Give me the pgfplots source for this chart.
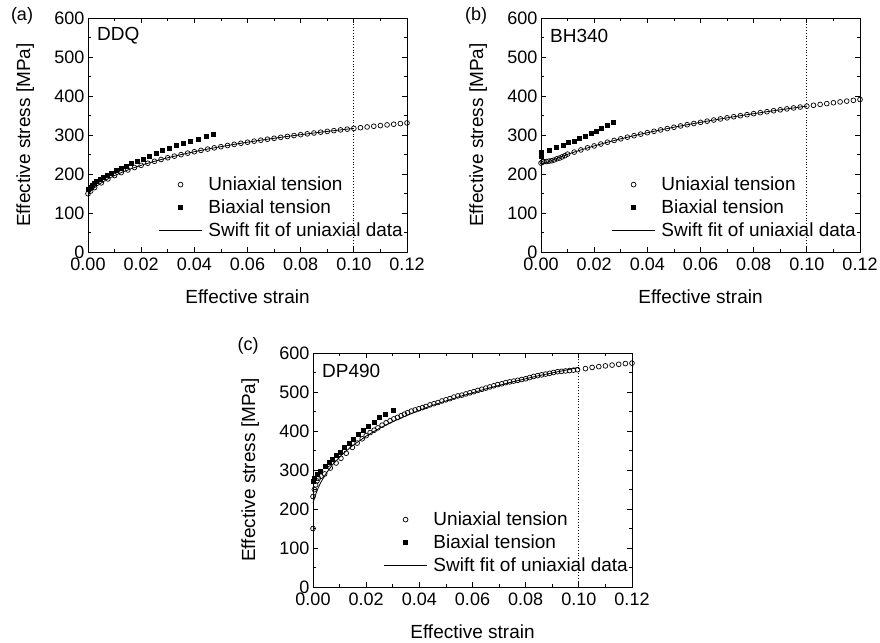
\documentclass[border=0pt]{standalone}
\usepackage{fontspec}
\setmainfont{Liberation Sans}
\usepackage{pgfplots}
\pgfplotsset{compat=1.18}
\newcommand\fs{\fontsize{18}{21.6}\selectfont}
\newcommand\fl{\fontsize{19}{22.8}\selectfont}
\pgfplotsset{
  panel/.style={
    scale only axis, width=319pt, height=234pt,
    xmin=0, xmax=0.12, ymin=0, ymax=600,
    xtick={0,0.02,0.04,0.06,0.08,0.1,0.12},
    ytick={0,100,200,300,400,500,600},
    minor x tick num=1, minor y tick num=1,
    tick align=inside, major tick length=5pt, minor tick length=3pt,
    axis line style={line width=0.8pt},
    every tick/.style={black, line width=0.8pt},
    scaled x ticks=false,
    xticklabel style={/pgf/number format/fixed, /pgf/number format/fixed zerofill, /pgf/number format/precision=2, yshift=-2pt},
    /pgf/number format/assume math mode=true,
    tick label style={font=\fs},
    xlabel={Effective strain}, ylabel={Effective stress [MPa]},
    every axis x label/.style={at={(axis description cs:0.5,-0.19)}, anchor=center, font=\fl},
    every axis y label/.style={at={(axis description cs:-0.197,0.5)}, rotate=90, anchor=center, font=\fl},
    clip=false,
    legend cell align=left,
    legend style={draw=none, fill=none, at={(1,0)}, anchor=south east,
      xshift=-3pt, yshift=13pt, font=\fl, row sep=5.5pt, inner sep=0pt,
      nodes={inner sep=1pt},
      /tikz/every odd column/.append style={column sep=5pt}},
  },
  uni/.style={only marks, mark=o, mark size=2.4pt, line width=0.7pt, black,
    legend image code/.code={\draw[black, mark=o, mark size=2.4pt, line width=0.7pt] plot coordinates {(21.5pt,0pt)};}},
  bi/.style={only marks, mark=square*, mark size=2pt, black,
    legend image code/.code={\draw[black, mark=square*, mark size=2pt] plot coordinates {(21.5pt,0pt)};}},
  fit/.style={black, line width=0.8pt, no marks,
    legend image code/.code={\draw[black, line width=0.8pt] (0pt,0pt) -- (43pt,0pt);}},
  vline/.style={black, dotted, line width=0.8pt, forget plot},
}
\begin{document}
\begin{tikzpicture}[x=1pt,y=1pt]
\useasboundingbox (0,0) rectangle (880,-642);
\node[font=\fs] at (22,-16) {(a)};
\node[font=\fs] at (476,-16) {(b)};
\node[font=\fs] at (248,-346) {(c)};

% ---------------- (a) DDQ
\begin{axis}[panel, at={(88pt,-252pt)}, anchor=south west]
\addplot[vline] coordinates {(0.1,0) (0.1,600)};
\addplot[uni] coordinates {
(0,149.4)(0.001,156.3)(0.0025,165.2)(0.005,177.3)(0.0075,187.3)(0.01,196.0)(0.0125,203.6)(0.015,210.4)(0.0175,216.6)
(0.02,222.3)(0.0225,227.6)(0.025,232.6)(0.0275,237.2)(0.03,241.6)(0.0325,245.8)(0.035,249.7)(0.0375,253.5)
(0.04,257.1)(0.0425,260.5)(0.045,263.9)(0.0475,267.0)(0.05,270.1)(0.0525,273.1)(0.055,276.0)(0.0575,278.8)
(0.06,281.5)(0.0625,284.2)(0.065,286.7)(0.0675,289.2)(0.07,291.6)(0.0725,294.0)(0.075,296.3)(0.0775,298.6)
(0.08,300.8)(0.0825,303.0)(0.085,305.1)(0.0875,307.2)(0.09,309.2)(0.0925,311.2)(0.095,313.1)(0.0975,315.0)
(0.1,316.9)(0.1025,318.7)(0.105,320.6)(0.1075,322.4)(0.11,324.1)(0.1125,325.9)(0.115,327.6)(0.1175,329.3)(0.12,330.9)};
\addlegendentry{Uniaxial tension}
\addplot[bi] coordinates {
(0,160)(0.0007,166)(0.0014,171)(0.0022,176)(0.0032,181)(0.0045,186)(0.0057,191)(0.0072,197)(0.0089,203)
(0.0107,209)(0.0126,215)(0.0145,221)(0.0164,227)(0.0185,233)(0.0207,239)(0.023,246)(0.0255,253)(0.028,260)
(0.0305,267)(0.033,273)(0.0357,279)(0.0385,285)(0.0414,290)(0.0443,296)(0.047,301)};
\addlegendentry{Biaxial tension}
\addplot[fit] coordinates {
(0,149.4)(0.001,156.3)(0.0025,165.2)(0.005,177.3)(0.0075,187.3)(0.01,196.0)(0.0125,203.6)(0.015,210.4)(0.0175,216.6)
(0.02,222.3)(0.025,232.6)(0.03,241.6)(0.035,249.7)(0.04,257.1)(0.045,263.9)(0.05,270.1)(0.055,276.0)
(0.06,281.5)(0.065,286.7)(0.07,291.6)(0.075,296.3)(0.08,300.8)(0.085,305.1)(0.09,309.2)(0.095,313.1)(0.1,316.9)};
\addlegendentry{Swift fit of uniaxial data}
\node[anchor=west, inner sep=0pt, font=\fl] at (rel axis cs:0.028,0.923) {DDQ};
\end{axis}

% ---------------- (b) BH340
\begin{axis}[panel, at={(541pt,-252pt)}, anchor=south west]
\addplot[vline] coordinates {(0.1,0) (0.1,600)};
\addplot[uni] coordinates {
(0,228)(0.0005,231)(0.001,232)(0.002,232)(0.003,233)(0.004,234)(0.005,236)(0.006,239)(0.007,241)(0.008,244)(0.009,247)
(0.01,251)(0.0125,256.2)(0.015,261.7)(0.0175,267.0)(0.02,272.0)(0.0225,276.9)(0.025,281.5)(0.0275,286.0)
(0.03,290.2)(0.0325,294.4)(0.035,298.3)(0.0375,302.2)(0.04,305.9)(0.0425,309.5)(0.045,313.1)(0.0475,316.5)
(0.05,319.9)(0.0525,323.2)(0.055,326.4)(0.0575,329.5)(0.06,332.5)(0.0625,335.5)(0.065,338.4)(0.0675,341.2)
(0.07,344.0)(0.0725,346.8)(0.075,349.5)(0.0775,352.1)(0.08,354.7)(0.0825,357.2)(0.085,359.8)(0.0875,362.2)
(0.09,364.6)(0.0925,367.0)(0.095,369.4)(0.0975,371.7)(0.1,374.0)(0.1025,376.2)(0.105,378.4)(0.1075,380.5)
(0.11,382.7)(0.1125,384.8)(0.115,386.9)(0.1175,388.9)(0.12,391.0)};
\addlegendentry{Uniaxial tension}
\addplot[bi] coordinates {
(0,245)(0,250)(0,256)(0.0031,260)(0.0056,268)(0.0082,275)(0.0103,281)(0.0123,285)(0.0144,291)(0.0167,297)
(0.0188,304)(0.0207,311)(0.0226,317)(0.0248,326)(0.027,334)};
\addlegendentry{Biaxial tension}
\addplot[fit] coordinates {
(0,222.5)(0.0025,230.3)(0.005,237.4)(0.0075,244.1)(0.01,250.3)(0.0125,256.2)(0.015,261.7)(0.02,272.0)
(0.025,281.5)(0.03,290.2)(0.035,298.3)(0.04,305.9)(0.045,313.1)(0.05,319.9)(0.055,326.4)(0.06,332.5)
(0.065,338.4)(0.07,344.0)(0.075,349.5)(0.08,354.7)(0.085,359.8)(0.09,364.6)(0.095,369.4)(0.1,374.0)};
\addlegendentry{Swift fit of uniaxial data}
\node[anchor=west, inner sep=0pt, font=\fl] at (rel axis cs:0.028,0.923) {BH340};
\end{axis}

% ---------------- (c) DP490
\begin{axis}[panel, at={(313pt,-587pt)}, anchor=south west]
\addplot[vline] coordinates {(0.1,0) (0.1,600)};
\addplot[uni] coordinates {
(0,150)(0,232)(0.0005,250)(0.001,262)(0.0015,272)(0.002,279)(0.003,284)(0.0044,290)(0.0065,305)(0.0087,318)
(0.0105,330)(0.0125,343)(0.0148,358)(0.0166,369)(0.0185,380)(0.02,388)(0.0215,396)(0.023,402)(0.0244,408)
(0.026,415)(0.0275,421)(0.029,426)(0.0304,431)(0.0318,435)(0.0331,439)(0.0344,443)(0.0356,447)(0.037,451)
(0.0384,454)(0.0398,457)(0.0412,460)(0.0425,463)(0.044,467)(0.0455,470)(0.047,473)(0.0485,477)(0.05,480)
(0.0515,483)(0.053,487)(0.0545,490)(0.056,492)(0.0575,495)(0.059,498)(0.0605,501)(0.062,504)(0.0635,507)
(0.065,510)(0.0665,513)(0.068,516)(0.0695,519)(0.071,521)(0.0725,524)(0.074,526)(0.0755,528)(0.077,530)
(0.0785,532)(0.08,534)(0.0815,537)(0.083,540)(0.0845,542)(0.086,544)(0.0875,546)(0.089,548)(0.0905,550)
(0.092,552)(0.0935,553)(0.095,554)(0.0965,555)(0.098,556)(0.0995,557)(0.1025,560)(0.105,563)(0.1075,565)
(0.11,567)(0.1125,569)(0.115,571)(0.1175,573)(0.12,574)};
\addlegendentry{Uniaxial tension}
\addplot[bi] coordinates {
(0,272)(0.0006,279)(0.0015,288)(0.0028,298)(0.0045,309)(0.006,319)(0.0072,328)(0.0087,339)(0.0103,346)
(0.0119,358)(0.0135,369.5)(0.0153,380)(0.0171,391)(0.019,402)(0.0209,412)(0.0229,423)(0.025,435)(0.0272,444)(0.030,454)};
\addlegendentry{Biaxial tension}
\addplot[fit] coordinates {
(0,215)(0.0005,227)(0.001,237)(0.002,255)(0.003,269)(0.005,292)(0.0075,315)(0.01,333)(0.0125,349)(0.015,363)
(0.0175,375)(0.02,387)(0.025,407)(0.03,424)(0.035,439)(0.04,453)(0.045,466)(0.05,477)(0.055,488)(0.06,498)
(0.065,508)(0.07,517)(0.075,526)(0.08,534)(0.085,542)(0.09,549)(0.095,556)(0.1,563)};
\addlegendentry{Swift fit of uniaxial data}
\node[anchor=west, inner sep=0pt, font=\fl] at (rel axis cs:0.028,0.923) {DP490};
\end{axis}
\end{tikzpicture}
\end{document}
